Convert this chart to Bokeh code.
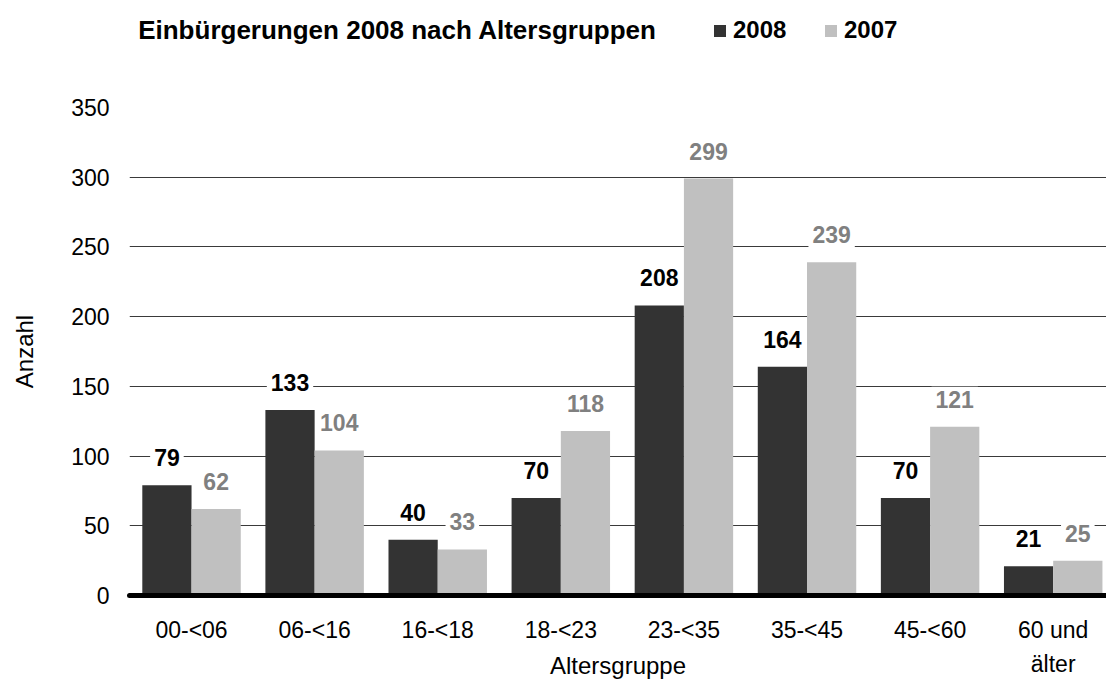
from bokeh.plotting import figure
from bokeh.layouts import column
from bokeh.models import Range1d, FixedTicker, Label
from bokeh.embed import file_html
from bokeh.resources import INLINE

# ---- data ----
categories = ["00-<06", "06-<16", "16-<18", "18-<23", "23-<35", "35-<45", "45-<60", "60 und\nälter"]
values_2008 = [79, 133, 40, 70, 208, 164, 70, 21]
values_2007 = [62, 104, 33, 118, 299, 239, 121, 25]
series_names = ["2008", "2007"]
y_ticks = [0, 50, 100, 150, 200, 250, 300, 350]
title_text = "Einbürgerungen 2008 nach Altersgruppen"
x_title = "Altersgruppe"
y_title = "Anzahl"

FONT = "Liberation Sans"
DARK = "#333333"
LIGHT = "#c0c0c0"
W = 1106
HEADER_H = 60
MAIN_H = 622

xs = list(range(len(categories)))
x_2008 = [x - 0.2 for x in xs]
x_2007 = [x + 0.2 for x in xs]

# ---- header: title + legend ----
header = figure(width=W, height=HEADER_H, output_backend="svg", toolbar_location=None,
                x_range=Range1d(-0.504, 7.433), y_range=Range1d(0, HEADER_H),
                x_axis_type=None, y_axis_type=None, min_border=0)
header.outline_line_color = None
header.grid.visible = False
header.add_layout(Label(x=268, y=31, x_units="screen", y_units="screen", text=title_text,
                        text_align="center", text_baseline="alphabetic", text_font=FONT,
                        text_font_size="26px", text_font_style="bold", text_color="#000000"))
header.vbar(x=x_2008, top=values_2008, width=0.4, fill_color=DARK, line_color=None,
            legend_label=series_names[0], visible=False)
header.vbar(x=x_2007, top=values_2007, width=0.4, fill_color=LIGHT, line_color=None,
            legend_label=series_names[1], visible=False)
lg = header.legend[0]
lg.orientation = "horizontal"
lg.location = (583, 16)
lg.border_line_color = None
lg.background_fill_alpha = 0
lg.inactive_fill_alpha = 0
lg.padding = 0
lg.margin = 0
lg.spacing = 18
lg.label_standoff = 6
lg.glyph_width = 15
lg.glyph_height = 15
lg.label_width = 72
lg.label_text_font = FONT
lg.label_text_font_size = "24px"
lg.label_text_font_style = "bold"
lg.label_text_color = "#000000"

# ---- main chart ----
p = figure(width=W, height=MAIN_H, output_backend="svg", toolbar_location=None,
           x_range=Range1d(-0.504, 7.433), y_range=Range1d(0, 350),
           min_border_left=129, min_border_right=0, min_border_top=47, min_border_bottom=84)
p.outline_line_color = None
p.background_fill_color = "white"
p.border_fill_color = "white"

p.vbar(x=x_2008, top=values_2008, width=0.4, fill_color=DARK, line_color=None)
p.vbar(x=x_2007, top=values_2007, width=0.4, fill_color=LIGHT, line_color=None)

# value labels
for xv, v in zip(x_2008, values_2008):
    p.add_layout(Label(x=xv, y=v, y_offset=27.5, text=str(v), text_align="center",
                       text_baseline="alphabetic", text_font=FONT, text_font_size="23px",
                       text_font_style="bold", text_color="#000000",
                       background_fill_color="white", padding=4))
for xv, v in zip(x_2007, values_2007):
    p.add_layout(Label(x=xv, y=v, y_offset=27.5, text=str(v), text_align="center",
                       text_baseline="alphabetic", text_font=FONT, text_font_size="23px",
                       text_font_style="bold", text_color="#808080",
                       background_fill_color="white", padding=4))

# axes
p.xaxis.ticker = FixedTicker(ticks=xs)
p.xaxis.major_label_overrides = {i: c for i, c in enumerate(categories)}
p.xaxis.major_tick_line_color = None
p.xaxis.minor_tick_line_color = None
p.xaxis.axis_line_width = 5
p.xaxis.axis_line_color = "#000000"
p.xaxis.axis_line_cap = "round"
p.xaxis.major_label_standoff = 15
p.xaxis.major_label_text_font = FONT
p.xaxis.major_label_text_font_size = "23px"
p.xaxis.major_label_text_color = "#000000"
p.xaxis.major_label_text_line_height = 1.34
p.xaxis.axis_label = x_title
p.xaxis.axis_label_text_font = FONT
p.xaxis.axis_label_text_font_size = "24px"
p.xaxis.axis_label_text_font_style = "normal"
p.xaxis.axis_label_text_color = "#000000"
p.xaxis.axis_label_standoff = -28

p.yaxis.ticker = FixedTicker(ticks=y_ticks)
p.yaxis.axis_line_color = None
p.yaxis.major_tick_line_color = None
p.yaxis.minor_tick_line_color = None
p.yaxis.major_label_standoff = 14
p.yaxis.major_label_text_font = FONT
p.yaxis.major_label_text_font_size = "23px"
p.yaxis.major_label_text_color = "#000000"
p.yaxis.axis_label = y_title
p.yaxis.axis_label_text_font = FONT
p.yaxis.axis_label_text_font_size = "24px"
p.yaxis.axis_label_text_font_style = "normal"
p.yaxis.axis_label_text_color = "#000000"
p.yaxis.axis_label_standoff = 30

p.xgrid.visible = False
p.ygrid.grid_line_color = "#3a3a3a"
p.ygrid.grid_line_width = 1

layout = column(header, p, spacing=0)
open("out.html", "w").write(file_html(layout, INLINE))
